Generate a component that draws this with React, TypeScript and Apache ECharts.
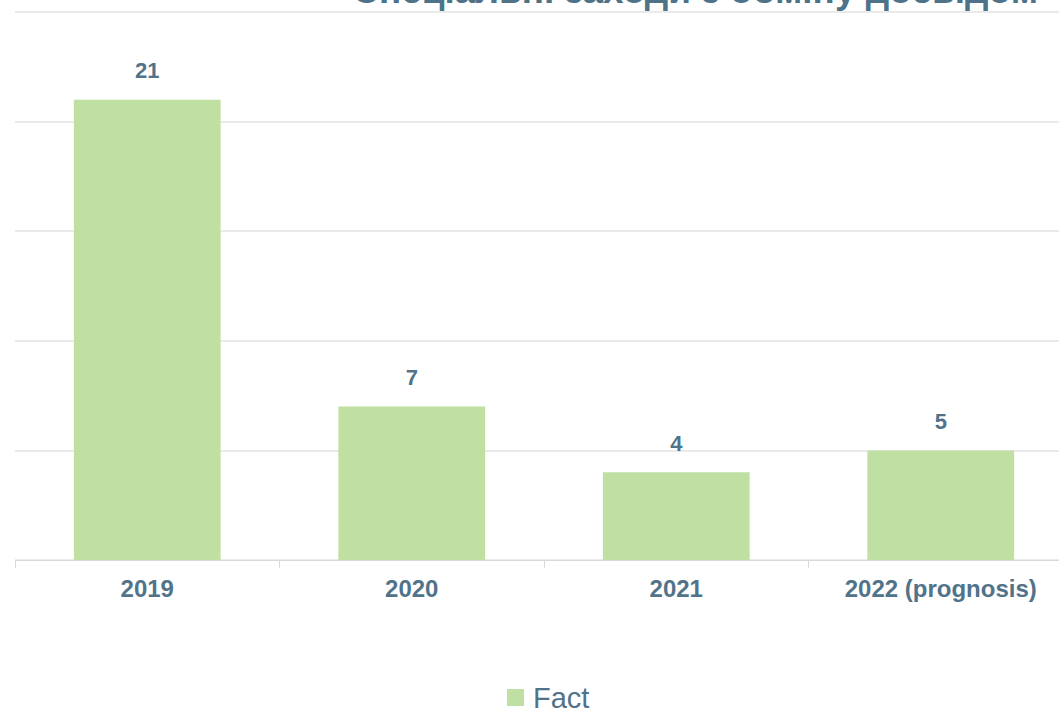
import React, { useEffect, useRef } from "react";
import * as echarts from "echarts";

const categories = ["2019", "2020", "2021", "2022 (prognosis)"];
const factValues = [21, 7, 4, 5];
const titleText = "Спеціальні заходи з обміну досвідом";
const seriesName = "Fact";

export default function App() {
  const ref = useRef<HTMLDivElement>(null);
  useEffect(() => {
    if (!ref.current) return;
    const chart = echarts.init(ref.current, undefined, { renderer: "svg" });
    const textColor = "#51738a";
    const font = "Liberation Sans, Arial, sans-serif";
    chart.setOption({
      animation: false,
      backgroundColor: "#ffffff",
      title: {
        text: titleText,
        right: 36,
        top: -28,
        padding: 0,
        textStyle: {
          fontFamily: font,
          fontSize: 37,
          fontWeight: "bold",
          color: "#4e7389",
        },
      },
      grid: { left: 15, right: 1, top: 12, bottom: 151, containLabel: false },
      xAxis: {
        type: "category",
        data: categories,
        axisLine: { lineStyle: { color: "#d9d9d9", width: 1 } },
        axisTick: { show: true, length: 8, lineStyle: { color: "#d9d9d9" } },
        axisLabel: {
          margin: 16,
          fontFamily: font,
          fontSize: 24,
          fontWeight: "bold",
          color: textColor,
        },
      },
      yAxis: {
        type: "value",
        min: 0,
        max: 25,
        interval: 5,
        axisLabel: { show: false },
        axisLine: { show: false },
        axisTick: { show: false },
        splitLine: { lineStyle: { color: "#e3e3e3", width: 1.5 } },
      },
      legend: {
        data: [seriesName],
        left: 507,
        top: 683,
        padding: 0,
        itemWidth: 17,
        itemHeight: 17,
        itemGap: 10,
        icon: "rect",
        textStyle: {
          fontFamily: font,
          fontSize: 29,
          color: textColor,
          padding: [0, 0, 0, 4],
        },
      },
      series: [
        {
          name: seriesName,
          type: "bar",
          data: factValues,
          barWidth: "55.5%",
          itemStyle: { color: "#bfe0a2" },
          label: {
            show: true,
            position: "top",
            distance: 18,
            fontFamily: font,
            fontSize: 22,
            fontWeight: "bold",
            color: textColor,
          },
        },
      ],
    });
    return () => chart.dispose();
  }, []);
  return (
    <div
      ref={ref}
      style={{ position: "fixed", left: 0, top: 0, width: 1074, height: 711 }}
    />
  );
}
